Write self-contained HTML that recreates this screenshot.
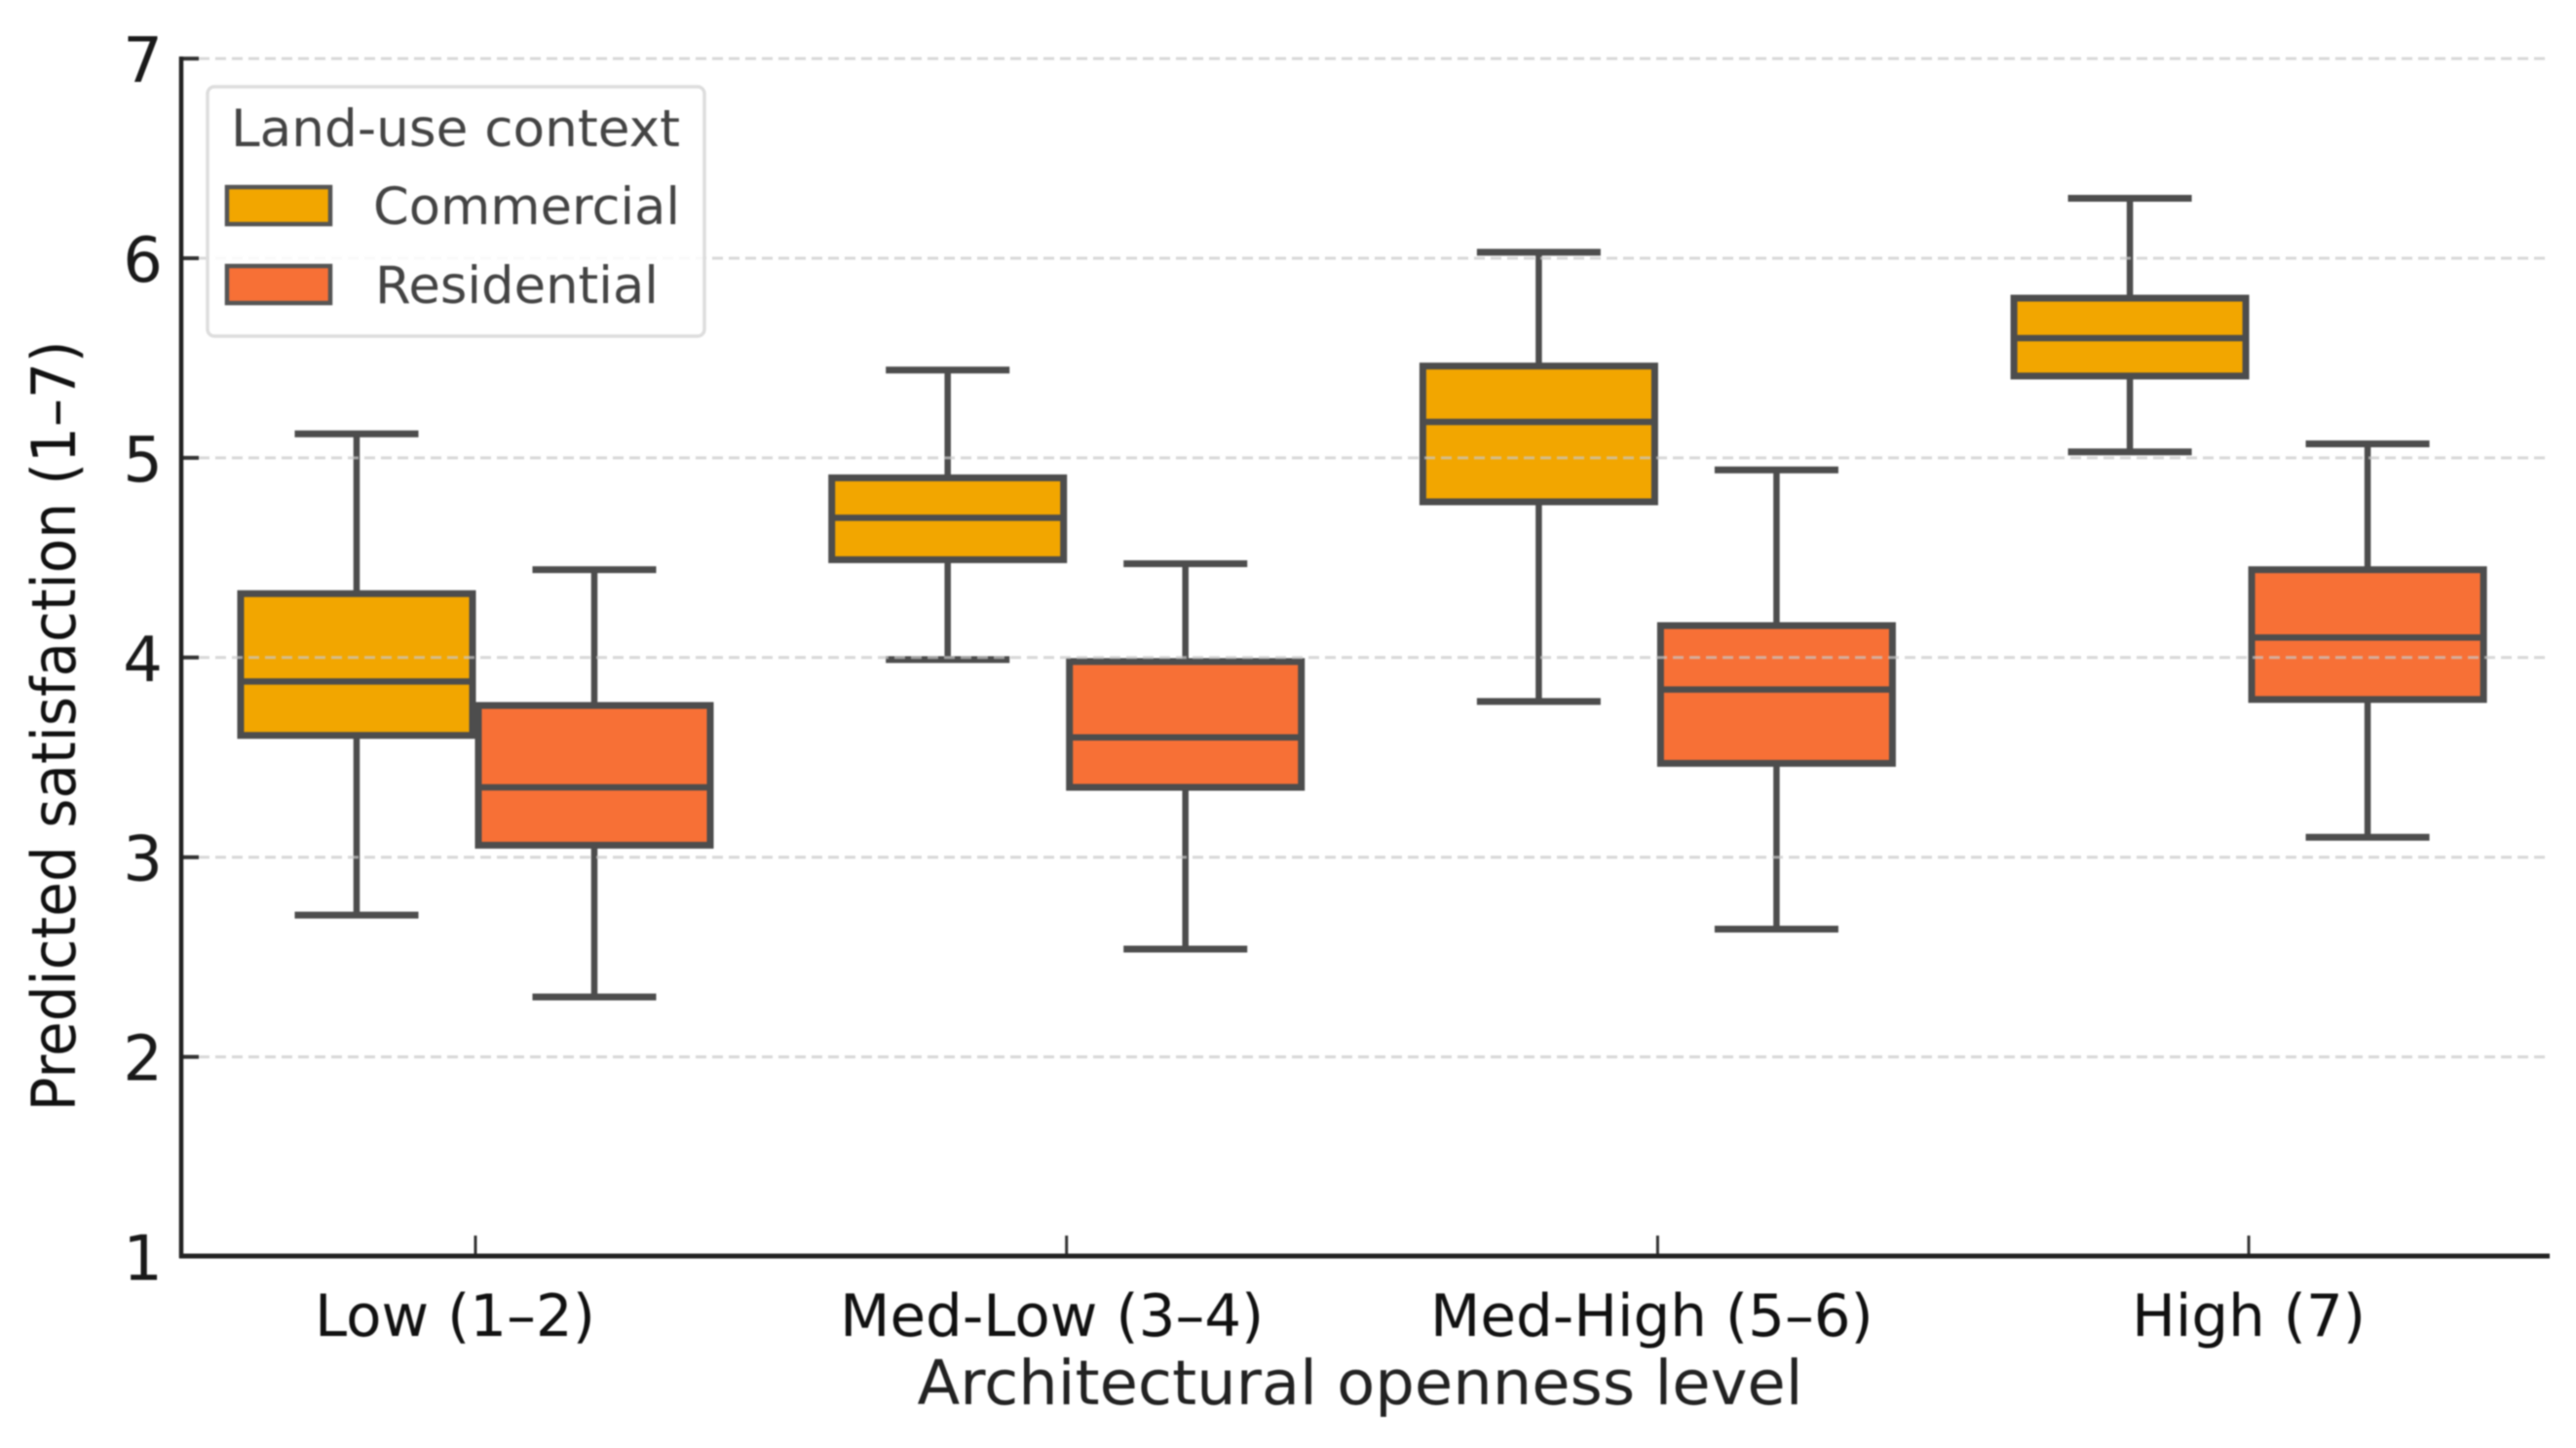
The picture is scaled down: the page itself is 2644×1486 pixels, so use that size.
<!DOCTYPE html>
<html lang="en">
<head>
<meta charset="utf-8">
<title>Predicted satisfaction by architectural openness</title>
<style>
  html, body { margin: 0; padding: 0; background: #ffffff; }
  #chart { display: block; width: 2644px; height: 1486px; filter: blur(0.7px); }
  text { font-family: "DejaVu Sans", "Liberation Sans", sans-serif; }
</style>
</head>
<body>
<svg id="chart" xmlns="http://www.w3.org/2000/svg" width="2644" height="1486" viewBox="0 0 2644 1486"></svg>
<script>
const categories = ["Low (1–2)", "Med-Low (3–4)", "Med-High (5–6)", "High (7)"];
const yTickValues = [1, 2, 3, 4, 5, 6, 7];
const seriesNames = ["Commercial", "Residential"];

const commercialLow = [2.71, 3.99, 3.78, 5.03];
const commercialQ1 = [3.61, 4.49, 4.78, 5.41];
const commercialMedian = [3.88, 4.70, 5.18, 5.60];
const commercialQ3 = [4.32, 4.90, 5.46, 5.80];
const commercialHigh = [5.12, 5.44, 6.03, 6.30];

const residentialLow = [2.30, 2.54, 2.64, 3.10];
const residentialQ1 = [3.06, 3.35, 3.47, 3.79];
const residentialMedian = [3.35, 3.60, 3.84, 4.10];
const residentialQ3 = [3.76, 3.98, 4.16, 4.44];
const residentialHigh = [4.44, 4.47, 4.94, 5.07];

const svg = document.getElementById('chart');
const NS = 'http://www.w3.org/2000/svg';

function yScale(v) { return 1289.5 - (v - 1) * 204.9; }
function xScale(i) { return 488 + i * 606.7; }

function mk(tag, attrs, parent) {
  const el = document.createElementNS(NS, tag);
  for (const k in attrs) el.setAttribute(k, attrs[k]);
  (parent || svg).appendChild(el);
  return el;
}

function label(str, attrs, parent) {
  const el = mk('text', attrs, parent);
  el.textContent = str;
  return el;
}

function drawBox(i, offset, fill, slug, low, q1, med, q3, high) {
  const cx = xScale(i) + offset;
  const halfBox = 119;
  const halfCap = 63.5;
  const stroke = '#4d4d4d';
  const g = mk('g', {});
  
  

  const wu = mk('line', { x1: cx, x2: cx, y1: yScale(q3), y2: yScale(high), stroke: stroke, 'stroke-width': 6.5 }, g);
  
  
  const wl = mk('line', { x1: cx, x2: cx, y1: yScale(q1), y2: yScale(low), stroke: stroke, 'stroke-width': 6.5 }, g);
  
  
  const cu = mk('line', { x1: cx - halfCap, x2: cx + halfCap, y1: yScale(high), y2: yScale(high), stroke: stroke, 'stroke-width': 7 }, g);
  
  
  const cl = mk('line', { x1: cx - halfCap, x2: cx + halfCap, y1: yScale(low), y2: yScale(low), stroke: stroke, 'stroke-width': 7 }, g);
  
  
  const r = mk('rect', { x: cx - halfBox, y: yScale(q3), width: halfBox * 2, height: yScale(q1) - yScale(q3), fill: fill, stroke: stroke, 'stroke-width': 7 }, g);
  
  
  const m = mk('line', { x1: cx - halfBox, x2: cx + halfBox, y1: yScale(med), y2: yScale(med), stroke: stroke, 'stroke-width': 6.5 }, g);
  
  
}

function drawChart() {
  const commercialColor = '#f2a600';
  const residentialColor = '#f77036';
  const boxOffset = 122;
  const labelShift = [-21, -15, -6, 0];

  categories.forEach(function (c, i) {
    drawBox(i, -boxOffset, commercialColor, 'commercial', commercialLow[i], commercialQ1[i], commercialMedian[i], commercialQ3[i], commercialHigh[i]);
    drawBox(i, boxOffset, residentialColor, 'residential', residentialLow[i], residentialQ1[i], residentialMedian[i], residentialQ3[i], residentialHigh[i]);
  });

  yTickValues.forEach(function (v) {
    const y = yScale(v);
    if (v > 1) {
      const gl = mk('line', { x1: 204, x2: 2617, y1: y, y2: y, stroke: '#c8c8c8', 'stroke-width': 3, 'stroke-dasharray': '11 6', opacity: 0.7 });
      
      
      const t = mk('line', { x1: 186, x2: 204, y1: y, y2: y, stroke: '#333333', 'stroke-width': 4 });
      
      
    }
    const tl = label(String(v), { x: 167, y: y + 24, 'text-anchor': 'end', 'font-size': 64, fill: '#1a1a1a' });
    
    
  });

  categories.forEach(function (c, i) {
    const x = xScale(i);
    const t = mk('line', { x1: x, x2: x, y1: 1268, y2: 1289, stroke: '#333333', 'stroke-width': 3 });
    
    
    const tl = label(c, { x: x + labelShift[i], y: 1371, 'text-anchor': 'middle', 'font-size': 59.5, fill: '#111111' });
    
    
  });

  const leftAxis = mk('line', { x1: 186, x2: 186, y1: 58, y2: 1291, stroke: '#222222', 'stroke-width': 4.5 });
  
  
  const bottomAxis = mk('line', { x1: 184, x2: 2617, y1: 1289, y2: 1289, stroke: '#222222', 'stroke-width': 5 });
  
  

  const xt = label('Architectural openness level', { x: 1396, y: 1441, 'text-anchor': 'middle', 'font-size': 63, fill: '#222222', textLength: 909, lengthAdjust: 'spacingAndGlyphs' });
  
  
  const yt = label('Predicted satisfaction (1–7)', { x: 0, y: 0, 'text-anchor': 'middle', 'font-size': 62, fill: '#111111', transform: 'translate(77 745) rotate(-90)', textLength: 791, lengthAdjust: 'spacingAndGlyphs' });
  
  

  const legend = mk('g', {});
  
  
  const frame = mk('rect', { x: 213, y: 89, width: 510, height: 256, rx: 7, ry: 7, fill: '#ffffff', 'fill-opacity': 0.85, stroke: '#dddddd', 'stroke-width': 3.5 }, legend);
  
  
  const title = label('Land-use context', { x: 237, y: 150, 'font-size': 53, fill: '#444444', textLength: 461, lengthAdjust: 'spacingAndGlyphs' }, legend);
  
  

  const s1 = mk('rect', { x: 233, y: 192, width: 106, height: 38, fill: commercialColor, stroke: '#555555', 'stroke-width': 4.5 }, legend);
  
  
  const t1 = label(seriesNames[0], { x: 383, y: 230, 'font-size': 53, fill: '#444444', textLength: 315, lengthAdjust: 'spacingAndGlyphs' }, legend);
  
  
  const s2 = mk('rect', { x: 233, y: 273, width: 106, height: 38, fill: residentialColor, stroke: '#555555', 'stroke-width': 4.5 }, legend);
  
  
  const t2 = label(seriesNames[1], { x: 385, y: 311, 'font-size': 53, fill: '#444444', textLength: 291, lengthAdjust: 'spacingAndGlyphs' }, legend);
  
  
}

drawChart();
</script>
</body>
</html>
